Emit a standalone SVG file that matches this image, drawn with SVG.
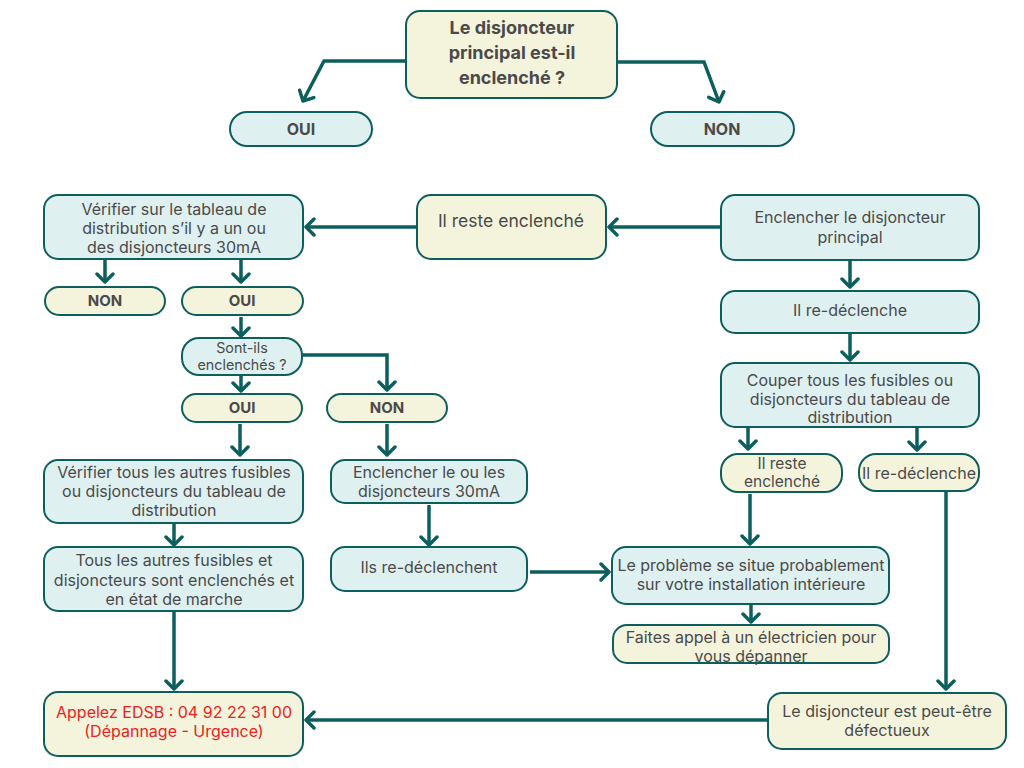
<svg xmlns="http://www.w3.org/2000/svg" width="1024" height="768" viewBox="0 0 1024 768">
<defs>
<marker id="arr" markerUnits="userSpaceOnUse" markerWidth="20" markerHeight="20" viewBox="-12 -10 14 20" refX="0" refY="0" orient="auto">
<path d="M-8,-8 L0,0 L-8,8" fill="none" stroke="#0d5f5e" stroke-width="3.5" stroke-linecap="round" stroke-linejoin="round"/>
</marker>
<style>
.b{fill:#dff0f1;stroke:#0d5f5e;stroke-width:2}
.c{fill:#f4f4dc;stroke:#0d5f5e;stroke-width:2}
text{font-family:Inter,"Liberation Sans",sans-serif;fill:#4a4a4a;text-anchor:middle}
.t{font-size:16px}
.s{font-size:15.5px}
.bd{font-size:16px;font-weight:bold}
.r{fill:#e8231c}
.ln{fill:none;stroke:#0d5f5e;stroke-width:3.5;marker-end:url(#arr)}
</style>
</defs>
<rect width="1024" height="768" fill="#ffffff"/>
<g id="connectors">
<path class="ln" d="M406,61 H324 L303,101"/>
<path class="ln" d="M617,62 H704 L719,102"/>
<path class="ln" d="M417,227 H306"/>
<path class="ln" d="M721,227 H609"/>
<path class="ln" d="M105,260 V282"/>
<path class="ln" d="M241,260 V282"/>
<path class="ln" d="M241,317 V336"/>
<path class="ln" d="M241,375 V391"/>
<path class="ln" d="M302,355 H387 V390"/>
<path class="ln" d="M240,424 V455"/>
<path class="ln" d="M387,424 V455"/>
<path class="ln" d="M174,523 V545"/>
<path class="ln" d="M429,505 V545"/>
<path class="ln" d="M530,572 H609"/>
<path class="ln" d="M174,611 V689"/>
<path class="ln" d="M768,720 H306"/>
<path class="ln" d="M850,260 V287"/>
<path class="ln" d="M850,333 V360"/>
<path class="ln" d="M748,427 V449"/>
<path class="ln" d="M917,427 V450"/>
<path class="ln" d="M750,494 V544"/>
<path class="ln" d="M946,492 V689"/>
<path class="ln" d="M751,605 V622"/>
</g>
<g id="n-top"><rect class="c" x="406" y="11" width="211" height="87" rx="14"/>
<text class="bd" style="font-size:18px" x="512" y="34">Le disjoncteur</text>
<text class="bd" style="font-size:18px" x="512" y="59">principal est-il</text>
<text class="bd" style="font-size:18px" x="512" y="84">enclenché ?</text></g>
<g id="n-oui1"><rect class="b" x="230" y="112" width="142" height="34" rx="17"/><text class="bd" x="301" y="135">OUI</text></g>
<g id="n-non1"><rect class="b" x="651" y="112" width="143" height="34" rx="17"/><text class="bd" x="722" y="135">NON</text></g>
<g id="n-verif30"><rect class="b" x="44" y="195" width="259" height="64" rx="14"/>
<text class="t" x="174" y="215">Vérifier sur le tableau de</text>
<text class="t" x="174" y="234">distribution s’il y a un ou</text>
<text class="t" x="174" y="253">des disjoncteurs 30mA</text></g>
<g id="n-reste1"><rect class="c" x="417" y="195" width="189" height="64" rx="14"/><text class="t" style="font-size:17.5px" x="511" y="227">Il reste enclenché</text></g>
<g id="n-enclencher"><rect class="b" x="721" y="195" width="258" height="65" rx="14"/>
<text class="t" x="850" y="223">Enclencher le disjoncteur</text>
<text class="t" x="850" y="243">principal</text></g>
<g id="n-non2"><rect class="c" x="45" y="287" width="120" height="28" rx="14"/><text class="bd" style="font-size:15px" x="105" y="306">NON</text></g>
<g id="n-oui2"><rect class="c" x="182" y="287" width="121" height="28" rx="14"/><text class="bd" style="font-size:15px" x="242" y="306">OUI</text></g>
<g id="n-sontils"><rect class="b" x="182" y="338" width="120" height="37" rx="17"/>
<text style="font-size:14.3px" x="242" y="353">Sont-ils</text>
<text style="font-size:14.3px" x="242" y="370">enclenchés ?</text></g>
<g id="n-oui3"><rect class="c" x="182" y="394" width="120" height="28" rx="14"/><text class="bd" style="font-size:15px" x="242" y="413">OUI</text></g>
<g id="n-non3"><rect class="c" x="327" y="394" width="120" height="28" rx="14"/><text class="bd" style="font-size:15px" x="387" y="413">NON</text></g>
<g id="n-veriftous"><rect class="b" x="44" y="460" width="259" height="63" rx="14"/>
<text class="t" x="174" y="478">Vérifier tous les autres fusibles</text>
<text class="t" x="174" y="497">ou disjoncteurs du tableau de</text>
<text class="t" x="174" y="516">distribution</text></g>
<g id="n-encl30"><rect class="b" x="331" y="460" width="196" height="43" rx="14"/>
<text class="t" x="429" y="478">Enclencher le ou les</text>
<text class="t" x="429" y="497">disjoncteurs 30mA</text></g>
<g id="n-tous"><rect class="b" x="44" y="547" width="259" height="64" rx="14"/>
<text class="t" x="174" y="566">Tous les autres fusibles et</text>
<text class="t" x="174" y="586">disjoncteurs sont enclenchés et</text>
<text class="t" x="174" y="605">en état de marche</text></g>
<g id="n-ils"><rect class="b" x="331" y="547" width="196" height="44" rx="14"/><text class="t" x="429" y="573">Ils re-déclenchent</text></g>
<g id="n-appel"><rect class="c" x="44" y="692" width="259" height="64" rx="14"/>
<text class="t r" x="174" y="718">Appelez EDSB : 04 92 22 31 00</text>
<text class="t r" x="174" y="737">(Dépannage - Urgence)</text></g>
<g id="n-redecl1"><rect class="b" x="721" y="291" width="258" height="42" rx="14"/><text class="t" x="850" y="316">Il re-déclenche</text></g>
<g id="n-couper"><rect class="b" x="721" y="363" width="258" height="64" rx="14"/>
<text class="t" x="850" y="386">Couper tous les fusibles ou</text>
<text class="t" x="850" y="405">disjoncteurs du tableau de</text>
<text class="t" x="850" y="423">distribution</text></g>
<g id="n-reste2"><rect class="c" x="721" y="454" width="121" height="38" rx="17"/>
<text class="s" x="782" y="469">Il reste</text>
<text class="s" x="782" y="487">enclenché</text></g>
<g id="n-redecl2"><rect class="c" x="859" y="454" width="120" height="37" rx="17"/><text class="s" style="font-size:16px" x="919" y="479">Il re-déclenche</text></g>
<g id="n-probleme"><rect class="b" x="612" y="547" width="277" height="57" rx="14"/>
<text class="t" x="751" y="571">Le problème se situe probablement</text>
<text class="t" x="751" y="590">sur votre installation intérieure</text></g>
<g id="n-faites"><rect class="c" x="613" y="625" width="276" height="38" rx="14"/>
<text class="t" x="751" y="643">Faites appel à un électricien pour</text>
<text class="t" x="751" y="662">vous dépanner</text></g>
<g id="n-defect"><rect class="c" x="768" y="693" width="238" height="56" rx="14"/>
<text class="t" x="887" y="717">Le disjoncteur est peut-être</text>
<text class="t" x="887" y="736">défectueux</text></g>
</svg>
